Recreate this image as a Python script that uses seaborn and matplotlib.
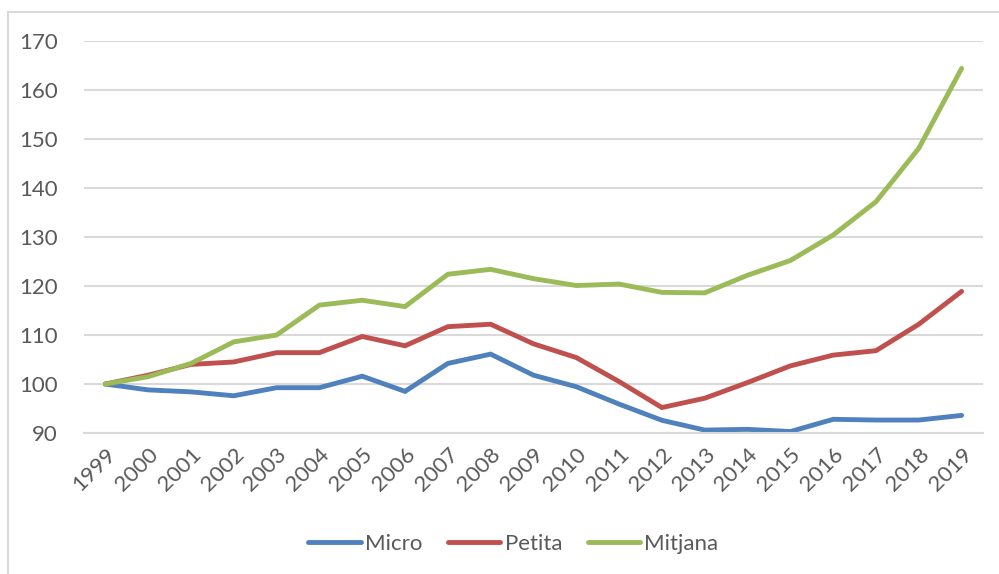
import matplotlib
matplotlib.use("Agg")
import matplotlib.pyplot as plt
import seaborn as sns
import pandas as pd
from matplotlib.patches import Rectangle
from matplotlib.lines import Line2D

years = list(range(1999, 2020))
micro = [100, 98.8, 98.4, 97.6, 99.25, 99.25, 101.6, 98.5, 104.2, 106.1, 101.8,
         99.45, 95.9, 92.6, 90.6, 90.75, 90.3, 92.8, 92.65, 92.65, 93.6]
petita = [100, 101.8, 104.0, 104.5, 106.4, 106.4, 109.7, 107.8, 111.7, 112.2, 108.2,
          105.4, 100.5, 95.2, 97.1, 100.3, 103.7, 105.9, 106.8, 112.2, 118.9]
mitjana = [100, 101.5, 104.2, 108.6, 110.0, 116.1, 117.1, 115.8, 122.4, 123.4, 121.5,
           120.1, 120.4, 118.7, 118.6, 122.2, 125.2, 130.4, 137.2, 148.1, 164.4]
series_names = ["Micro", "Petita", "Mitjana"]
colors = ["#4F81BD", "#C0504D", "#9BBB59"]
yticks = [90, 100, 110, 120, 130, 140, 150, 160, 170]

df = pd.DataFrame({
    "year": years * 3,
    "value": micro + petita + mitjana,
    "serie": [n for n in series_names for _ in years],
})

sns.set_theme(style="white")
plt.rcParams["font.family"] = ["Lato", "DejaVu Sans"]

fig = plt.figure(figsize=(9.99, 5.74), dpi=100)
ax = fig.add_axes([0.084, 0.2456, 0.900, 0.683])

sns.lineplot(data=df, x="year", y="value", hue="serie", palette=colors,
             linewidth=3.5, ax=ax, legend=False, solid_capstyle="round",
             solid_joinstyle="miter")

ax.set_xlim(1998.5, 2019.5)
ax.set_ylim(90, 170)
ax.set_yticks(yticks)
ax.set_yticklabels([str(t) for t in yticks], fontsize=16, color="#595959")
ax.set_xticks(years)
ax.set_xticklabels([str(y) for y in years], fontsize=16, color="#595959",
                   rotation=45, ha="right", va="top", rotation_mode="anchor")
ax.tick_params(axis="both", length=0)
ax.tick_params(axis="y", pad=19)
ax.tick_params(axis="x", pad=8)
ax.grid(axis="y", color="#D9D9D9", linewidth=1.5)
ax.set_axisbelow(True)
for s in ["left", "right", "top"]:
    ax.spines[s].set_visible(False)
ax.spines["bottom"].set_color("#D9D9D9")
ax.spines["bottom"].set_linewidth(1.5)
ax.set_xlabel("")
ax.set_ylabel("")

handles = [Line2D([], [], color=c, linewidth=3.5, solid_capstyle="round") for c in colors]
fig.legend(handles, series_names, loc="center", bbox_to_anchor=(0.514, 1 - 544 / 574),
           ncol=3, frameon=False, fontsize=16, handlelength=2.35,
           handletextpad=0.2, columnspacing=1.15, labelcolor="#595959")

fig.add_artist(Rectangle((7.5 / 999, -0.1), 1.2, 1.1 - 12 / 574, transform=fig.transFigure,
                         fill=False, edgecolor="#D9D9D9", linewidth=1.5))

fig.savefig("out.png", dpi=100)
